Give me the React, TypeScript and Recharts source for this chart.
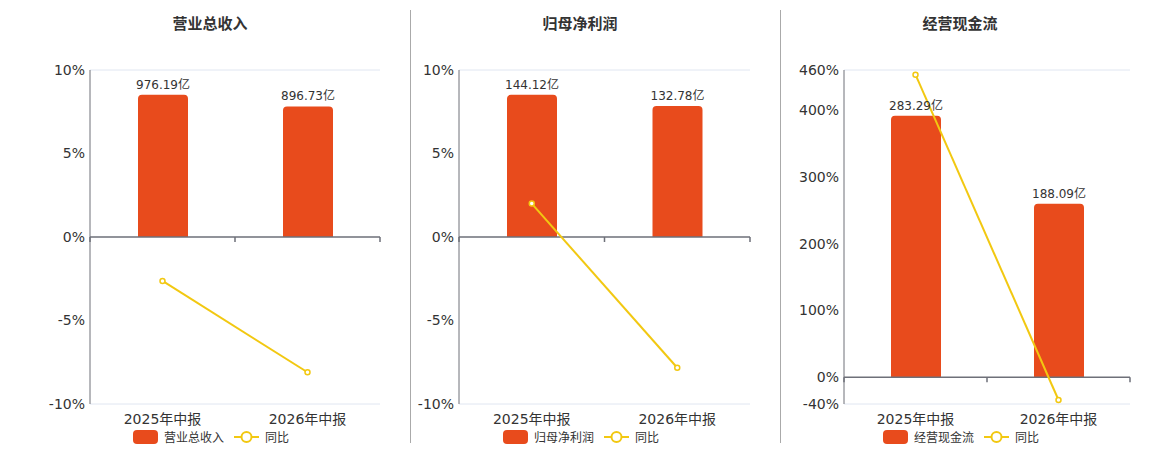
import React from "react";
import {
  ComposedChart,
  Bar,
  Line,
  XAxis,
  YAxis,
  CartesianGrid,
  ReferenceLine,
  LabelList,
} from "recharts";

const periods = ["2025年中报", "2026年中报"];

const revenue = [976.19, 896.73];
const revenueYoy = [-2.63, -8.1];

const netProfit = [144.12, 132.78];
const netProfitYoy = [2.0, -7.83];

const cashFlow = [283.29, 188.09];
const cashFlowYoy = [453, -34];

const pctTicksSmall = [-10, -5, 0, 5, 10];
const pctTicksCash = [-40, 0, 100, 200, 300, 400, 460];

const BAR_COLOR = "#E84B1C";
const LINE_COLOR = "#F2C811";
const AXIS_COLOR = "#6E7079";
const GRID_COLOR = "#E0E6F1";
const FONT = '"DejaVu Sans", "Noto Sans CJK SC", sans-serif';

type PanelProps = {
  title: string;
  name: string;
  values: number[];
  yoy: number[];
  ticks: number[];
  left: number;
  width: number;
  titleX: number;
  legendX: number;
};

// zero line with small ticks at the category boundaries
function ZeroAxis(props: any) {
  const { x1, y1, x2 } = props;
  const mid = (x1 + x2) / 2;
  return (
    <path
      d={`M${x1},${y1}H${x2}M${x1},${y1}v5M${mid},${y1}v5M${x2},${y1}v5`}
      stroke={AXIS_COLOR}
      strokeWidth={1.5}
      fill="none"
    />
  );
}

function Panel({ title, name, values, yoy, ticks, left, width, titleX, legendX }: PanelProps) {
  const data = periods.map((p, i) => ({ period: p, value: values[i], yoy: yoy[i] }));
  const pMin = ticks[0];
  const pMax = ticks[ticks.length - 1];
  const top = Math.max(...values) * 1.175;
  const barDomain = [(top * pMin) / pMax, top];

  return (
    <>
      <div
        style={{
          position: "absolute",
          left: titleX - 100,
          width: 200,
          top: 12,
          textAlign: "center",
          fontFamily: FONT,
          fontWeight: "bold",
          fontSize: 15,
          color: "#333",
        }}
      >
        {title}
      </div>
      <div style={{ position: "absolute", left, top: 0 }}>
        <ComposedChart
          width={width}
          height={450}
          data={data}
          margin={{ top: 70, right: 20, bottom: 16, left: 0 }}
        >
          <CartesianGrid vertical={false} stroke={GRID_COLOR} />
          <XAxis
            dataKey="period"
            axisLine={false}
            tickLine={false}
            height={30}
            tickMargin={4}
            tick={{ fill: "#333", fontSize: 14, fontFamily: FONT }}
          />
          <YAxis
            yAxisId="pct"
            orientation="left"
            width={90}
            domain={[pMin, pMax]}
            ticks={ticks}
            interval={0}
            tickFormatter={(v) => `${v}%`}
            tickLine={false}
            tickSize={0}
            tickMargin={5}
            axisLine={{ stroke: AXIS_COLOR }}
            tick={{ fill: "#333", fontSize: 14, fontFamily: FONT }}
          />
          <YAxis yAxisId="bar" orientation="right" width={0} hide domain={barDomain} />
          <Bar
            yAxisId="bar"
            dataKey="value"
            fill={BAR_COLOR}
            barSize={50}
            radius={[4, 4, 0, 0]}
            isAnimationActive={false}
          >
            <LabelList
              dataKey="value"
              position="top"
              offset={6}
              formatter={(v: any) => `${v}亿`}
              style={{ fill: "#333", fontSize: 12, fontFamily: FONT }}
            />
          </Bar>
          <ReferenceLine yAxisId="pct" y={0} shape={ZeroAxis} />
          <Line
            yAxisId="pct"
            dataKey="yoy"
            stroke={LINE_COLOR}
            strokeWidth={2}
            dot={{ r: 2.5, fill: "#fff", stroke: LINE_COLOR, strokeWidth: 1.5 }}
            activeDot={false}
            isAnimationActive={false}
          />
        </ComposedChart>
      </div>
      <div
        style={{
          position: "absolute",
          left: legendX,
          top: 428,
          display: "flex",
          alignItems: "center",
          fontFamily: FONT,
          fontSize: 12,
          color: "#333",
          whiteSpace: "nowrap",
        }}
      >
        <span
          style={{
            display: "inline-block",
            width: 25,
            height: 14,
            borderRadius: 4,
            background: BAR_COLOR,
            marginRight: 6,
          }}
        />
        <span>{name}</span>
        <svg width={25} height={14} style={{ marginLeft: 10, marginRight: 6 }}>
          <line x1={0} y1={7} x2={25} y2={7} stroke={LINE_COLOR} strokeWidth={2} />
          <circle cx={12.5} cy={7} r={5} fill="#fff" stroke={LINE_COLOR} strokeWidth={2} />
        </svg>
        <span>同比</span>
      </div>
    </>
  );
}

export default function App() {
  return (
    <div
      style={{
        position: "absolute",
        left: 0,
        top: 0,
        width: 1160,
        height: 450,
        background: "#fff",
      }}
    >
      <div style={{ position: "absolute", left: 410, top: 10, width: 1, height: 433, background: "#AAA" }} />
      <div style={{ position: "absolute", left: 780, top: 10, width: 1, height: 433, background: "#AAA" }} />
      <Panel
        title="营业总收入"
        name="营业总收入"
        values={revenue}
        yoy={revenueYoy}
        ticks={pctTicksSmall}
        left={0}
        width={400}
        titleX={210}
        legendX={133}
      />
      <Panel
        title="归母净利润"
        name="归母净利润"
        values={netProfit}
        yoy={netProfitYoy}
        ticks={pctTicksSmall}
        left={369}
        width={401}
        titleX={580}
        legendX={503}
      />
      <Panel
        title="经营现金流"
        name="经营现金流"
        values={cashFlow}
        yoy={cashFlowYoy}
        ticks={pctTicksCash}
        left={754}
        width={396}
        titleX={960}
        legendX={883}
      />
    </div>
  );
}
